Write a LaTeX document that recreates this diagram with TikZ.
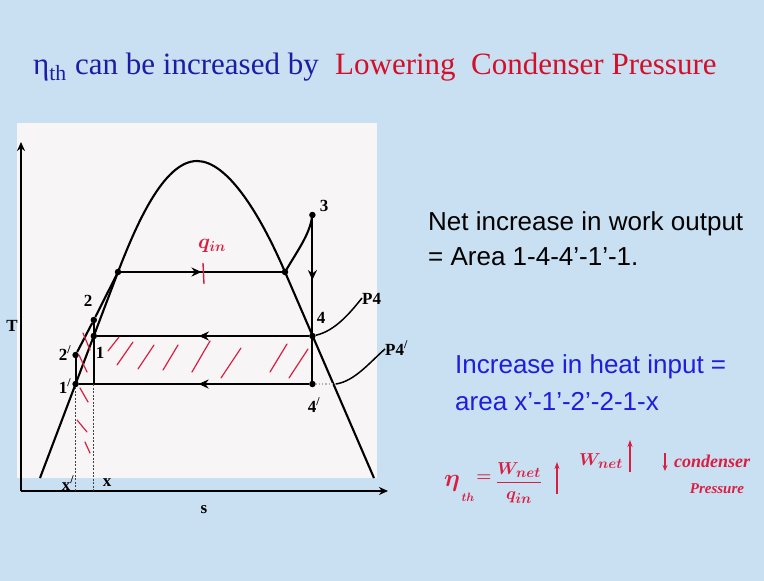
\documentclass[tikz,border=0pt]{standalone}
\usepackage{fontspec}
\setmainfont{Liberation Serif}
\newfontfamily\arial{Liberation Sans}
\usetikzlibrary{arrows.meta,decorations.markings}
\definecolor{bg}{RGB}{201,223,242}
\definecolor{panel}{RGB}{248,245,246}
\definecolor{tblue}{RGB}{28,28,165}
\definecolor{rblue}{RGB}{30,30,220}
\definecolor{tred}{RGB}{210,16,42}
\definecolor{hand}{RGB}{218,30,65}
\begin{document}
\begin{tikzpicture}[x=1pt,y=-1pt,
  cyc/.style={line width=2.1pt, black},
  dot/.style={circle, fill=black, inner sep=0pt, minimum size=6.5pt},
  lbl/.style={font=\fontsize{17}{17}\selectfont\bfseries, inner sep=0pt},
  hatch/.style={hand, line width=1.2pt, line cap=round},
  handtxt/.style={text=hand, inner sep=0pt},
  axisline/.style={line width=2pt, -{Stealth[length=9pt,width=8pt]}},
  midarrow/.style={postaction={decorate}, decoration={markings,
      mark=at position #1 with {\arrow{Stealth[length=10pt,width=9pt]}}}},
  leader/.style={line width=1.5pt},
  dashv/.style={line width=0.7pt, dash pattern=on 2pt off 1.5pt, black!75},
  ttl/.style={anchor=base west, inner sep=0pt, font=\fontsize{31}{31}\selectfont},
  rtxt/.style={anchor=base west, inner sep=0pt, font=\arial\fontsize{26}{26}\selectfont}
]
\useasboundingbox (0,0) rectangle (764,581);
\fill[bg] (0,0) rectangle (764,581);
\fill[panel] (17,123) rectangle (377,478);

% title
\node[ttl, text=tblue] (t1) at (33,74) {η\textsubscript{th}};
\node[ttl, text=tblue] (t2) at (75,74) {can be increased by};
\node[ttl, text=tred] (t3) at (335,74) {Lowering\ \ Condenser Pressure};

% key points
\coordinate (o) at (21,491);
\coordinate (yend) at (21,142);
\coordinate (xend) at (388,491);
\coordinate (sl0) at (40,478);
\coordinate (L) at (118,272);
\coordinate (R) at (285,272);
\coordinate (top) at (197,161);
\coordinate (sv0) at (374,478);
\node[dot] (p3) at (312.4,215) {};
\node[dot] (p4) at (312.4,336) {};
\node[dot] (p4b) at (312.4,384) {};
\node[dot] (p1) at (93.8,336) {};
\node[dot] (p2) at (93.8,320) {};
\node[dot] (p2b) at (75.6,355) {};
\node[dot] (p1b) at (75.6,384) {};
\node[dot] (pL) at (L) {};
\node[dot] (pR) at (R) {};
\coordinate (c1b) at (93.8,384);
\coordinate (xp) at (75.6,491);
\coordinate (xx) at (93.8,491);

% axes
\draw[axisline] (o) -- (yend);
\draw[axisline] (o) -- (xend);

% saturation dome
\draw[cyc] (sl0) -- (L) .. controls (135,228) and (163,161) .. (top)
  .. controls (227,161) and (259.6,213) .. (R) -- (sv0);

% cycle lines
\draw[cyc] (p2b) -- (p2) -- (L);
\draw[cyc] (p1) -- (p2);
\draw[cyc] (p1b) -- (p2b);
\draw[cyc] (p1) -- (c1b);
\draw[cyc, midarrow=0.5] (L) -- (R);
\draw[cyc] (R) .. controls (298,250) and (309,235) .. (p3);
\draw[cyc, midarrow=0.54] (p3) -- (p4);
\draw[cyc] (p4) -- (p4b);
\draw[cyc, midarrow=0.52] (p4) -- (p1);
\draw[cyc, midarrow=0.48] (p4b) -- (p1b);

% dashed verticals
\draw[dashv] (p1b) -- (xp);
\draw[dashv] (c1b) -- (xx);

% labels
\node[lbl] (l3) at (324,206) {3};
\node[lbl] (l4) at (321,318) {4};
\node[lbl] (l4b) at (314,405) {4\textsuperscript{/}};
\node[lbl, anchor=west] (lP4) at (362,299) {P4};
\node[lbl, anchor=west] (lP4b) at (385,348) {P4\textsuperscript{/}};
\node[lbl] (l2) at (88,301) {2};
\node[lbl] (l2b) at (65,353) {2\textsuperscript{/}};
\node[lbl] (l1) at (100,353) {1};
\node[lbl] (l1b) at (65,386) {1\textsuperscript{/}};
\node[lbl] (lxp) at (68,483) {x\textsuperscript{/}};
\node[lbl] (lx) at (107,483) {x};
\node[lbl] (lT) at (12,326) {T};
\node[lbl] (ls) at (204,510) {s};

% leaders
\coordinate (cP4) at (362,298);
\coordinate (cP4b) at (385,349);
\coordinate (c4e) at (336,384);
\draw[leader] (p4) .. controls (335,331) and (350,313) .. (cP4);
\draw[black!30, line width=1.2pt, dotted] (p4b) -- (c4e);
\draw[leader] (c4e) .. controls (355,381) and (370,362) .. (cP4b);

% red hatching
\foreach \a/\b/\c/\d in {108/351/119/337, 117/365/133/342, 138/369/154/345,
   163/370/178/345, 192/372/210/341, 221/378/241/348, 270/372/287/344,
   289/378/308/349, 83/333/90/350, 79/355/87/372, 80/388/88/402,
   77/420/87/432, 85/442/90/453}
  \draw[hatch] (\a,\b) -- (\c,\d);

% handwritten q_in
\node[handtxt, font=\boldmath\fontsize{22}{22}\selectfont] (qin) at (212,246) {$q_{in}$};
\coordinate (qa) at (203,263);
\coordinate (qb) at (204,284);
\draw[hand, line width=1.4pt] (qa) -- (qb);

% right text
\node[rtxt] (n1) at (428,230) {Net increase in work output};
\node[rtxt] (n2) at (428,265) {= Area 1-4-4’-1’-1.};
\node[rtxt, text=rblue] (h1) at (455,373) {Increase in heat input =};
\node[rtxt, text=rblue] (h2) at (455,410) {area x’-1’-2’-2-1-x};

% handwritten formula
\node[handtxt, font=\boldmath\fontsize{42}{42}\selectfont] (eta) at (452,483) {$\eta$};
\node[handtxt, font=\boldmath\fontsize{13}{13}\selectfont] (th) at (468,497) {$th$};
\node[handtxt, font=\boldmath\fontsize{18}{18}\selectfont] (eq) at (484,478) {$=$};
\node[handtxt, font=\boldmath\fontsize{19}{19}\selectfont] (frac) at (519,483) {$\displaystyle\frac{W_{net}}{q_{in}}$};
\coordinate (a1s) at (557,494);
\coordinate (a1e) at (557,462);
\draw[hand, line width=1.6pt, -{Stealth[length=7pt,width=5pt]}] (a1s) -- (a1e);
\node[handtxt, font=\boldmath\fontsize{19}{19}\selectfont] (wn) at (601,461) {$W_{net}$};
\coordinate (a2s) at (630,472);
\coordinate (a2e) at (630,440);
\draw[hand, line width=1.6pt, -{Stealth[length=7pt,width=5pt]}] (a2s) -- (a2e);
\coordinate (a3s) at (665,453);
\coordinate (a3e) at (665,471);
\draw[hand, line width=1.6pt, -{Stealth[length=6pt,width=5pt]}] (a3s) -- (a3e);
\node[handtxt, anchor=west, font=\bfseries\itshape\fontsize{18}{18}\selectfont] (cond) at (674,461) {condenser};
\node[handtxt, font=\bfseries\itshape\fontsize{15}{15}\selectfont] (pres) at (717,489) {Pressure};
\end{tikzpicture}
\end{document}
